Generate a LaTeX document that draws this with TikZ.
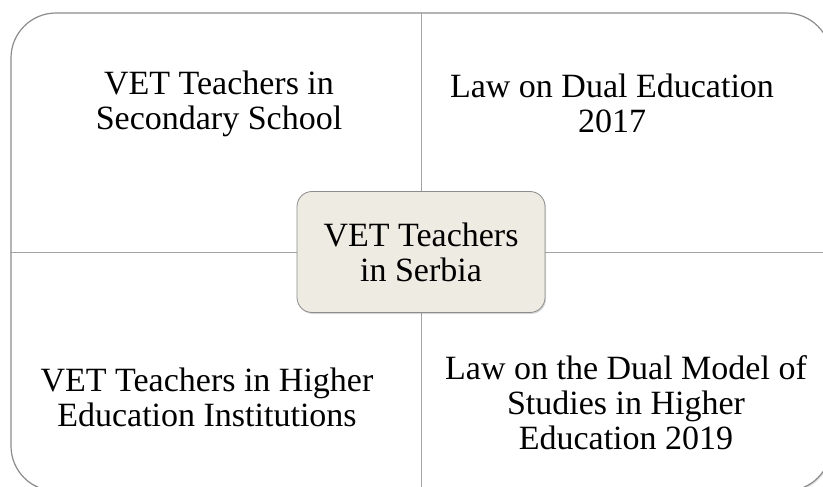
\documentclass[tikz,border=0pt]{standalone}
\usepackage{fontspec}
\setmainfont{Liberation Serif}
\usetikzlibrary{shadows}

\definecolor{framegray}{HTML}{8C8C8C}
\definecolor{centerfill}{HTML}{EDEBE2}

\begin{document}
\begin{tikzpicture}[%
            x=1pt, y=-1pt,
            frame/.style={
                draw=framegray,
                line width=1.2pt,
                rounded corners=45pt,
                inner sep=0pt,
                drop shadow={shadow xshift=1pt, shadow yshift=-1.5pt, opacity=0.25},
                fill=white,
            },
            divider/.style={
                draw=framegray!80,
                line width=1pt,
            },
            topic/.style={
                align=center,
                font=\fontsize{34}{35}\selectfont,
            },
            hub/.style={
                topic,
                draw=framegray,
                line width=0.8pt,
                fill=centerfill,
                rounded corners=15pt,
                minimum width=248pt,
                minimum height=121pt,
                drop shadow={shadow xshift=1pt, shadow yshift=-1.5pt, opacity=0.3},
            },
        ]
        \useasboundingbox (0,0) rectangle (823,487);
        \clip (0,0) rectangle (823,487);
        \node[frame, minimum width=820pt, minimum height=478pt] (frame) at (421,252) {};
        \draw[divider] (frame.north) -- (frame.south);
        \draw[divider] (frame.west) -- (frame.east);
        \node[topic] (secondary) at (219,104) {VET Teachers in\\Secondary School};
        \node[topic] (law2017) at (612,103) {Law on Dual Education\\2017};
        \node[topic] (higher) at (207,397) {VET Teachers in Higher\\Education Institutions};
        \node[topic] (law2019) at (626,403) {Law on the Dual Model of\\Studies in Higher\\Education 2019};
        \node[hub] (serbia) at (421,252) {VET Teachers\\in Serbia};
    \end{tikzpicture}
\end{document}
